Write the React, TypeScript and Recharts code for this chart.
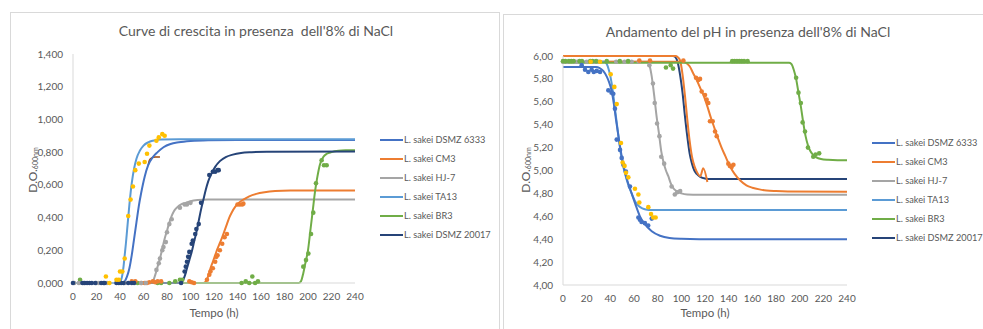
import { ComposedChart, Line, Scatter, XAxis, YAxis, Legend, Label } from 'recharts'

// Time axis shared by both charts
const hourTicks = [0, 20, 40, 60, 80, 100, 120, 140, 160, 180, 200, 220, 240]

// ---- Growth curves (D.O. 600nm) : fitted lines [t, value] ----
const gDsmz6333: number[][] = [[0, 0], [42, 0], [44, 0.01], [46, 0.04], [48, 0.09], [50, 0.17], [52, 0.27], [54, 0.37], [56, 0.47], [58, 0.55], [61, 0.65], [64, 0.72], [68, 0.77], [72, 0.8], [77, 0.83], [83, 0.85], [90, 0.86], [100, 0.868], [115, 0.873], [140, 0.875], [240, 0.875]]
const gCm3: number[][] = [[0, 0], [111, 0], [113, 0.01], [115, 0.04], [117, 0.09], [119, 0.13], [121, 0.17], [123, 0.21], [125, 0.245], [127, 0.28], [129, 0.32], [131, 0.36], [133, 0.4], [135, 0.43], [138, 0.465], [141, 0.49], [145, 0.51], [150, 0.53], [156, 0.545], [163, 0.555], [172, 0.562], [185, 0.565], [240, 0.566]]
const gHj7: number[][] = [[0, 0], [66, 0], [68, 0.01], [70, 0.05], [72, 0.1], [74, 0.15], [76, 0.21], [78, 0.27], [80, 0.32], [82, 0.37], [84, 0.41], [86, 0.44], [89, 0.465], [92, 0.48], [96, 0.49], [100, 0.5], [106, 0.507], [115, 0.51], [240, 0.51]]
const gTa13: number[][] = [[0, 0], [39, 0], [41, 0.02], [42, 0.05], [43, 0.1], [44, 0.17], [45, 0.24], [46, 0.32], [47, 0.4], [48, 0.48], [49, 0.55], [50, 0.61], [52, 0.7], [54, 0.76], [57, 0.81], [60, 0.84], [64, 0.86], [68, 0.87], [75, 0.877], [90, 0.879], [240, 0.879]]
const gBr3: number[][] = [[0, 0], [192, 0], [194, 0.01], [196, 0.06], [198, 0.13], [200, 0.2], [202, 0.32], [204, 0.44], [206, 0.56], [208, 0.65], [210, 0.72], [213, 0.77], [216, 0.79], [220, 0.8], [226, 0.808], [232, 0.811], [240, 0.812]]
const gDsmz20017: number[][] = [[0, 0], [91, 0], [93, 0.01], [95, 0.04], [97, 0.09], [99, 0.14], [101, 0.19], [103, 0.25], [105, 0.31], [107, 0.38], [109, 0.45], [111, 0.51], [113, 0.57], [115, 0.62], [118, 0.67], [121, 0.71], [125, 0.745], [130, 0.77], [136, 0.785], [143, 0.795], [152, 0.8], [165, 0.803], [240, 0.804]]
const gHook: number[][] = [[64, 0.72], [65, 0.75], [67, 0.765], [70, 0.77], [74, 0.77]]

// growth measured points
const gpYellow: number[][] = [[28, 0.04], [31, 0], [37, 0.02], [39, 0.02], [40, 0.07], [42, 0.07], [44, 0.15], [47, 0.41], [49, 0.51], [51, 0.59], [53, 0.69], [56, 0.73], [61, 0.74], [63, 0.79], [65, 0.84], [71, 0.87], [73, 0.89], [76, 0.91], [78, 0.9]]
const gpNavy: number[][] = [[0, 0], [8, 0], [10, 0], [12, 0], [14, 0], [16, 0], [19, 0], [24, 0], [26, 0], [27, 0], [37, 0], [39, 0], [41, 0], [43, 0], [47, 0], [50, 0], [52, 0], [92, 0], [95, 0.07], [96, 0.1], [97, 0.13], [98, 0.16], [99, 0.19], [101, 0.24], [102, 0.26], [104, 0.3], [105, 0.33], [107, 0.36], [109, 0.49], [116, 0.66], [119, 0.68], [121, 0.68], [123, 0.69], [124, 0.69]]
const gpGray: number[][] = [[1, 0], [5, 0], [9, 0], [20, 0], [22, 0], [29, 0], [44, 0], [58, 0], [62, 0], [71, 0.08], [73, 0.12], [74, 0.15], [76, 0.2], [77, 0.22], [79, 0.25], [80, 0.31], [82, 0.36], [84, 0.39], [91, 0.46], [95, 0.48], [97, 0.48], [100, 0.49]]
const gpOrange: number[][] = [[50, 0.01], [53, 0.01], [58, 0], [61, 0], [63, 0], [65, 0.005], [68, 0.01], [70, 0.005], [72, 0.01], [75, 0.01], [99, 0.01], [101, 0.005], [103, 0], [114, 0.02], [116, 0.05], [117, 0.07], [119, 0.09], [121, 0.13], [122, 0.16], [123, 0.17], [125, 0.2], [127, 0.24], [129, 0.28], [131, 0.3], [140, 0.48], [142, 0.48], [144, 0.48], [145, 0.485]]
const gpGreen: number[][] = [[6, 0.02], [55, 0], [72, 0], [75, 0], [82, 0], [87, 0.01], [91, 0.02], [93, 0.02], [143.5, 0], [147, 0.01], [150, 0], [152.6, 0.04], [155, 0], [157.4, 0.01], [196, 0.1], [198.3, 0.14], [200.3, 0.18], [202.6, 0.3], [204.5, 0.43], [206.8, 0.61], [211.6, 0.75], [213.6, 0.72], [215.9, 0.72]]
const growthTicks = [0, 0.2, 0.4, 0.6, 0.8, 1.0, 1.2, 1.4]

// ---- pH curves : fitted lines [t, pH] ----
const pDsmz6333: number[][] = [[0, 5.905], [28, 5.905], [31, 5.895], [34, 5.87], [37, 5.82], [39, 5.77], [41, 5.7], [43, 5.58], [45, 5.43], [47, 5.29], [49, 5.16], [51, 5.05], [53, 4.96], [55, 4.89], [58, 4.8], [61, 4.71], [65, 4.6], [70, 4.52], [75, 4.47], [82, 4.43], [90, 4.41], [100, 4.403], [115, 4.4], [240, 4.4]]
const pCm3: number[][] = [[0, 5.95], [100, 5.95], [104, 5.94], [107, 5.91], [110, 5.85], [113, 5.79], [116, 5.72], [119, 5.65], [122, 5.56], [125, 5.46], [128, 5.37], [131, 5.28], [134, 5.2], [137, 5.13], [141, 5.04], [145, 4.97], [150, 4.91], [155, 4.87], [160, 4.85], [166, 4.835], [172, 4.825], [180, 4.82], [190, 4.817], [240, 4.815]]
const pHj7: number[][] = [[0, 5.95], [71, 5.95], [73, 5.92], [75, 5.82], [77, 5.66], [79, 5.48], [81, 5.33], [83, 5.17], [85, 5.07], [87, 5.0], [89, 4.95], [91, 4.89], [93, 4.85], [96, 4.82], [100, 4.8], [105, 4.79], [115, 4.788], [240, 4.788]]
const pTa13: number[][] = [[0, 5.95], [35, 5.95], [37, 5.93], [39, 5.87], [41, 5.77], [43, 5.62], [45, 5.45], [47, 5.29], [49, 5.14], [51, 5.03], [53, 4.95], [55, 4.88], [58, 4.8], [61, 4.73], [64, 4.69], [67, 4.67], [70, 4.66], [75, 4.655], [85, 4.655], [240, 4.655]]
const pBr3: number[][] = [[0, 5.94], [191, 5.94], [193, 5.93], [195, 5.88], [197, 5.8], [199, 5.68], [201, 5.56], [203, 5.42], [205, 5.3], [207, 5.22], [209, 5.17], [211, 5.14], [214, 5.115], [218, 5.1], [224, 5.093], [232, 5.09], [240, 5.09]]
const pDsmz20017: number[][] = [[0, 6.0], [93, 6.0], [95, 5.99], [97, 5.94], [99, 5.83], [101, 5.68], [103, 5.48], [105, 5.3], [107, 5.15], [109, 5.06], [111, 5.0], [113, 4.97], [116, 4.945], [120, 4.93], [125, 4.925], [240, 4.925]]
const pCm3Top: number[][] = [[0, 6.0], [95, 6.0], [97, 5.99], [99, 5.96], [101, 5.84], [103, 5.66], [105, 5.45], [107, 5.26], [109, 5.12], [111, 5.04], [113, 4.99], [116, 4.95], [118.5, 5.02], [122, 4.9]]

// pH measured points
const ppGreen: number[][] = [[0, 5.955], [2, 5.955], [5, 5.955], [7, 5.955], [9, 5.955], [14, 5.955], [16, 5.955], [23, 5.955], [25, 5.955], [28, 5.955], [37, 5.955], [48, 5.955], [55, 5.955], [87, 5.9], [91, 5.92], [93, 5.89], [143, 5.955], [145, 5.955], [147, 5.955], [149, 5.955], [151, 5.955], [153, 5.955], [156, 5.955], [197, 5.81], [199, 5.68], [201, 5.59], [202.5, 5.42], [204.5, 5.34], [207, 5.2], [211.5, 5.12], [213.5, 5.14], [216.5, 5.15]]
const ppGray: number[][] = [[0, 5.95], [4, 5.95], [10, 5.95], [12, 5.95], [20, 5.95], [26, 5.95], [30, 5.95], [45, 5.95], [52, 5.95], [58, 5.95], [64, 5.95], [73, 5.92], [76, 5.76], [77.5, 5.59], [79.5, 5.41], [81.5, 5.3], [83, 5.12], [85.5, 5.06], [91.8, 4.86], [94.5, 4.79], [96.5, 4.81], [99, 4.82]]
const ppBlue: number[][] = [[15.8, 5.92], [18.6, 5.88], [21.4, 5.86], [24.2, 5.88], [26, 5.86], [28.5, 5.87], [31.3, 5.86], [38.3, 5.7], [41, 5.68], [42.5, 5.67], [43.9, 5.54], [45.4, 5.27], [48.2, 5.18], [49.6, 5.11], [51, 5.05], [53.2, 4.99], [56.6, 4.86], [63.7, 4.59], [65, 4.57], [66.4, 4.55], [69.2, 4.54], [72, 4.52], [75, 4.58]]
const ppYellow: number[][] = [[23.4, 5.95], [31.3, 5.95], [40.3, 5.84], [43.4, 5.73], [45.4, 5.58], [49, 5.24], [50.4, 5.07], [52, 5.04], [53.2, 4.98], [55.2, 4.94], [60.8, 4.84], [63.7, 4.79], [64.5, 4.72], [72.1, 4.68], [74.4, 4.62], [76.3, 4.59], [78.3, 4.59]]
const ppOrange: number[][] = [[64.5, 5.96], [73.5, 5.96], [101.7, 5.96], [112.4, 5.81], [114.4, 5.79], [115.8, 5.8], [117.2, 5.69], [120, 5.66], [121.4, 5.62], [122.8, 5.59], [124.2, 5.43], [126.5, 5.43], [128.5, 5.34], [129.9, 5.3], [139.7, 5.06], [141, 5.04], [142.5, 5.03], [144, 5.05]]
const phTicks = [4.0, 4.2, 4.4, 4.6, 4.8, 5.0, 5.2, 5.4, 5.6, 5.8, 6.0]

const strainNames = ['L. sakei DSMZ 6333', 'L. sakei CM3', 'L. sakei HJ-7', 'L. sakei TA13', 'L. sakei BR3', 'L. sakei DSMZ 20017']
const COLORS = ['#4472C4', '#ED7D31', '#A5A5A5', '#5B9BD5', '#70AD47', '#264478']

const FONT = 'Lato, "Open Sans", sans-serif'
const TEXT = '#595959'
const toPts = (arr: number[][]) => arr.map(([t, v]) => ({ t, v }))

type Series = { data: number[][]; color: string; width?: number }

function LegendBox() {
  return (
    <div style={{ fontFamily: FONT, fontSize: 9.2, color: TEXT }}>
      {strainNames.map((n, i) => (
        <div key={n} style={{ display: 'flex', alignItems: 'center', height: 19, whiteSpace: 'nowrap' }}>
          <span style={{ display: 'inline-block', flexShrink: 0, width: 23, height: 2, background: COLORS[i], marginRight: 1 }} />
          {n}
        </div>
      ))}
    </div>
  )
}

function Panel(props: {
  left: number
  width: number
  title: string
  titleX: number
  titleY: number
  plotTop: number
  plotRight: number
  xAxisH: number
  yLabelX: number
  legendLeft: number
  legendTop: number
  domain: [number, number]
  ticks: number[]
  fmt: (v: number) => string
  lines: Series[]
  points: Series[]
}) {
  const p = props
  return (
    <div style={{ position: 'absolute', left: p.left, top: 0, width: p.width, height: 329 }}>
      <div
        style={{
          position: 'absolute', left: 0, width: p.width, top: p.titleY - 10, textAlign: 'center',
          fontFamily: FONT, fontSize: 14, color: TEXT, whiteSpace: 'pre', marginLeft: p.titleX - p.width / 2,
        }}
      >
        {p.title}
      </div>
      <ComposedChart width={p.width} height={329} margin={{ top: p.plotTop, right: p.width - p.plotRight, bottom: 0, left: 0 }}>
        <XAxis
          dataKey='t'
          type='number'
          domain={[0, 240]}
          ticks={hourTicks}
          interval={0}
          tickLine={false}
          tickMargin={4}
          height={p.xAxisH}
          stroke='#d9d9d9'
          tick={{ fill: TEXT, fontSize: 10, fontFamily: FONT }}
        >
          <Label value='Tempo (h)' position='insideBottom' offset={12} fill={TEXT} fontSize={11.5} fontFamily={FONT} />
        </XAxis>
        <YAxis
          type='number'
          domain={p.domain}
          ticks={p.ticks}
          interval={0}
          width={73}
          tickLine={false}
          tickMargin={4}
          tickFormatter={p.fmt}
          stroke='#d9d9d9'
          tick={{ fill: TEXT, fontSize: 10, fontFamily: FONT }}
        >
          <Label
            content={() => (
              <text
                x={p.yLabelX}
                y={170}
                transform={`rotate(-90, ${p.yLabelX}, 170)`}
                textAnchor='middle'
                dominantBaseline='central'
                fill={TEXT}
                fontSize={12}
                fontFamily={FONT}
              >
                D.O.<tspan dy={3} fontSize={7}>600nm</tspan>
              </text>
            )}
          />
        </YAxis>
        {p.lines.map((s, i) => (
          <Line
            key={`l-${i}`}
            data={toPts(s.data)}
            dataKey='v'
            type='monotone'
            stroke={s.color}
            strokeWidth={s.width ?? 2}
            dot={false}
            activeDot={false}
            isAnimationActive={false}
          />
        ))}
        {p.points.map((s, i) => (
          <Scatter
            key={`s-${i}`}
            data={toPts(s.data)}
            dataKey='v'
            fill={s.color}
            isAnimationActive={false}
            shape={(sp: any) => <circle cx={sp.cx} cy={sp.cy} r={2.3} fill={s.color} />}
          />
        ))}
        <Legend
          layout='horizontal'
          verticalAlign='middle'
          content={() => <LegendBox />}
          wrapperStyle={{ position: 'absolute', left: p.legendLeft, top: p.legendTop, width: 112, height: 114 }}
        />
      </ComposedChart>
    </div>
  )
}

export default function App() {
  return (
    <div style={{ position: 'absolute', left: 0, top: 0, width: 983, height: 329, background: '#fff', overflow: 'hidden' }}>
      {/* panel frames */}
      <div style={{ position: 'absolute', left: 10, top: 12, width: 490, height: 330, border: '1px solid #d9d9d9', boxSizing: 'border-box' }} />
      <div style={{ position: 'absolute', left: 503, top: 14, width: 500, height: 330, border: '1px solid #d9d9d9', boxSizing: 'border-box' }} />
      <Panel
        left={0}
        width={490}
        title={"Curve di crescita in presenza  dell'8% di NaCl"}
        titleX={256}
        titleY={32}
        plotTop={54}
        plotRight={355}
        xAxisH={46}
        yLabelX={32}
        legendLeft={380}
        legendTop={130}
        domain={[0, 1.4]}
        ticks={growthTicks}
        fmt={(v) => v.toFixed(3).replace('.', ',')}
        lines={[
          { data: gHook, color: '#9E480E', width: 1.5 },
          { data: gHj7, color: COLORS[2] },
          { data: gCm3, color: COLORS[1] },
          { data: gBr3, color: COLORS[4] },
          { data: gDsmz20017, color: COLORS[5] },
          { data: gDsmz6333, color: COLORS[0] },
          { data: gTa13, color: COLORS[3] },
        ]}
        points={[
          { data: gpGreen, color: COLORS[4] },
          { data: gpOrange, color: COLORS[1] },
          { data: gpGray, color: COLORS[2] },
          { data: gpNavy, color: COLORS[5] },
          { data: gpYellow, color: '#FFC000' },
        ]}
      />
      <Panel
        left={490}
        width={493}
        title={"Andamento del pH in presenza dell'8% di NaCl"}
        titleX={258}
        titleY={33}
        plotTop={56}
        plotRight={357}
        xAxisH={44}
        yLabelX={35}
        legendLeft={382}
        legendTop={133}
        domain={[4, 6]}
        ticks={phTicks}
        fmt={(v) => v.toFixed(2).replace('.', ',')}
        lines={[
          { data: pDsmz20017, color: COLORS[5] },
          { data: pCm3Top, color: COLORS[1] },
          { data: pHj7, color: COLORS[2] },
          { data: pCm3, color: COLORS[1] },
          { data: pTa13, color: COLORS[3] },
          { data: pDsmz6333, color: COLORS[0] },
          { data: pBr3, color: COLORS[4] },
        ]}
        points={[
          { data: ppGray, color: COLORS[2] },
          { data: ppGreen, color: COLORS[4] },
          { data: ppOrange, color: COLORS[1] },
          { data: ppBlue, color: COLORS[0] },
          { data: ppYellow, color: '#FFC000' },
        ]}
      />
    </div>
  )
}
